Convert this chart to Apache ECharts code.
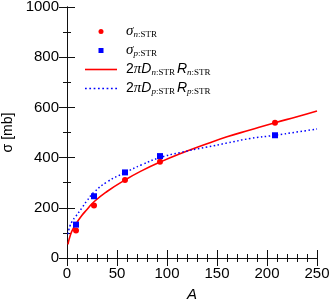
<!DOCTYPE html>
<html><head><meta charset="utf-8">
<script src="https://cdn.jsdelivr.net/npm/echarts@6/dist/echarts.min.js"></script>
<style>html,body{margin:0;padding:0;background:#fff}#c{width:332px;height:301px}</style>
</head><body><div id="c"></div>
<script>
// Data
const massA = [9, 27, 58, 93, 208];
const sigmaN = [110, 209, 311, 383, 539];
const sigmaP = [133, 246, 341, 406, 489];
const curveA = [1, 2, 3, 5, 9, 15, 20, 27, 40, 58, 75, 93, 113, 140, 160, 183, 208, 230, 250];
const curveN = [54, 73, 86, 108, 136, 170, 193, 224, 265, 311, 348, 382, 415, 455, 483, 510, 539, 563, 586];
const curveP = [95, 115, 128, 145, 167, 200, 228, 262, 303, 340, 372, 400, 420, 442, 458, 476, 489, 502, 514];
const xTicks = [0, 50, 100, 150, 200, 250];
const yTicks = [0, 200, 400, 600, 800, 1000];

const zip = (a, b) => a.map((v, i) => [v, b[i]]);
const font = 'Liberation Sans, Arial, sans-serif';
const serif = 'Liberation Serif, Times New Roman, serif';
const rich = {
  s: {fontFamily: serif, fontStyle: 'italic', fontSize: 15, color: '#000'},
  big: {fontFamily: font, fontStyle: 'italic', fontSize: 14, color: '#000'},
  bigR: {fontFamily: font, fontStyle: 'italic', fontSize: 14, color: '#000', padding: [0, 0, 0, 2]},
  sub: {fontFamily: serif, fontStyle: 'italic', fontSize: 9, color: '#000', verticalAlign: 'bottom', padding: [7, 0, 0, 0]},
  subr: {fontFamily: serif, fontSize: 9, color: '#000', verticalAlign: 'bottom', padding: [7, 0, 0, 0]},
  n: {fontFamily: font, fontSize: 14, color: '#000'}
};
const labels = {
  sn: '{s|σ}{sub|n}{subr|:STR}',
  sp: '{s|σ}{sub|p}{subr|:STR}',
  ln: '{n|2}{s|π}{big|D}{sub|n}{subr|:STR}{bigR|R}{sub|n}{subr|:STR}',
  lp: '{n|2}{s|π}{big|D}{sub|p}{subr|:STR}{bigR|R}{sub|p}{subr|:STR}'
};
let dots = '';
for (let i = 0; i < 8; i++) dots += 'M' + (i * 4) + ',0h1.6v1.6h-1.6z';
const icons = {
  sn: 'circle',
  sp: 'rect',
  ln: 'path://M0,0H32V1.6H0Z',
  lp: 'path://' + dots
};
const legendTops = {sn: 24, sp: 43, ln: 62, lp: 81};
const legendColors = {sn: '#ff0000', sp: '#0000ff', ln: '#ff0000', lp: '#0000ff'};

const legends = Object.keys(labels).map(k => {
  const isMarker = (k === 'sn' || k === 'sp');
  return {
    data: [{name: k, icon: icons[k], itemStyle: {color: legendColors[k]}}],
    left: isMarker ? 98.5 : 85, top: legendTops[k], padding: 0,
    itemWidth: isMarker ? 5 : 32, itemHeight: 5,
    formatter: n => labels[n],
    textStyle: {rich: rich, fontSize: 14, padding: [0, 0, 0, isMarker ? 17.5 : 4]},
    selectedMode: false
  };
});

const tickStyle = {color: '#111', width: 1};
const chart = echarts.init(document.getElementById('c'));
chart.setOption({
  animation: false,
  backgroundColor: '#fff',
  grid: {left: 67, right: 15, top: 7, bottom: 43, containLabel: false, outerBoundsMode: 'none'},
  legend: legends,
  xAxis: [
    {
      type: 'value', min: 0, max: 250, interval: 50,
      axisLine: {lineStyle: tickStyle},
      axisTick: {inside: true, length: 8, lineStyle: tickStyle},
      minorTick: {show: true, splitNumber: 5, length: 4, lineStyle: tickStyle},
      splitLine: {show: false},
      axisLabel: {color: '#000', fontFamily: font, fontSize: 15, margin: 8,
        formatter: v => xTicks.includes(v) ? String(v) : ''},
      name: 'A', nameLocation: 'middle', nameGap: 29,
      nameTextStyle: {color: '#000', fontFamily: font, fontStyle: 'italic', fontSize: 15}
    },
    {
      type: 'value', position: 'top', min: 0, max: 250, interval: 50,
      axisLine: {lineStyle: tickStyle},
      axisTick: {inside: true, length: 8, lineStyle: tickStyle},
      minorTick: {show: true, splitNumber: 5, length: 4, lineStyle: tickStyle},
      splitLine: {show: false},
      axisLabel: {show: false}
    }
  ],
  yAxis: [
    {
      type: 'value', min: 0, max: 1000, interval: 200,
      axisLine: {lineStyle: tickStyle},
      axisTick: {inside: true, length: 8, lineStyle: tickStyle},
      minorTick: {show: true, splitNumber: 2, length: 4, lineStyle: tickStyle},
      splitLine: {show: false},
      axisLabel: {color: '#000', fontFamily: font, fontSize: 15, margin: 8,
        formatter: v => yTicks.includes(v) ? String(v) : ''},
      name: 'σ [mb]', nameLocation: 'middle', nameGap: 45, nameRotate: 90,
      nameTextStyle: {color: '#000', fontFamily: font, fontSize: 14}
    },
    {
      type: 'value', position: 'right', min: 0, max: 1000, interval: 200,
      axisLine: {lineStyle: tickStyle},
      axisTick: {inside: true, length: 8, lineStyle: tickStyle},
      minorTick: {show: true, splitNumber: 2, length: 4, lineStyle: tickStyle},
      splitLine: {show: false},
      axisLabel: {show: false}
    }
  ],
  series: [
    {name: 'ln', type: 'line', data: zip(curveA, curveN), smooth: true, symbol: 'none',
      lineStyle: {color: '#ff0000', width: 1.6}, itemStyle: {color: '#ff0000'}, z: 2},
    {name: 'lp', type: 'line', data: zip(curveA, curveP), smooth: true, symbol: 'none',
      lineStyle: {color: '#0000ff', width: 1.5, type: [1.5, 2.5]}, itemStyle: {color: '#0000ff'}, z: 2},
    {name: 'sn', type: 'scatter', data: zip(massA, sigmaN), symbol: 'circle', symbolSize: 6,
      itemStyle: {color: '#ff0000', opacity: 1}, z: 3},
    {name: 'sp', type: 'scatter', data: zip(massA, sigmaP), symbol: 'rect', symbolSize: 6,
      itemStyle: {color: '#0000ff', opacity: 1}, z: 3}
  ]
});
</script></body></html>
